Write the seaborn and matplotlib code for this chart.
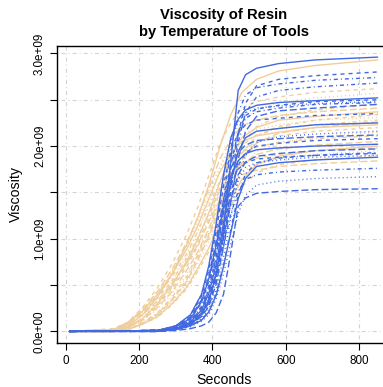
import numpy as np
import pandas as pd
import matplotlib
matplotlib.use("Agg")
import matplotlib.pyplot as plt
import seaborn as sns
from matplotlib.ticker import FixedLocator, FuncFormatter

# values, viscosity in units of 1e9
tan_seconds = [10, 130, 170, 210, 250, 290, 330, 360, 390, 420, 450, 480, 520, 580, 680, 850]
tan_curves = [
    [0, 0.01, 0.06, 0.18, 0.37, 0.62, 0.94, 1.23, 1.58, 1.99, 2.34, 2.58, 2.72, 2.81, 2.87, 2.93],
    [0, 0.03, 0.10, 0.26, 0.47, 0.73, 1.05, 1.34, 1.68, 2.02, 2.25, 2.41, 2.48, 2.53, 2.58, 2.62],
    [0, 0.01, 0.05, 0.15, 0.32, 0.54, 0.82, 1.08, 1.39, 1.75, 2.06, 2.26, 2.39, 2.47, 2.52, 2.57],
    [0, 0.00, 0.02, 0.10, 0.20, 0.37, 0.59, 0.83, 1.10, 1.42, 1.74, 2.01, 2.21, 2.32, 2.39, 2.45],
    [0, 0.02, 0.10, 0.24, 0.43, 0.67, 0.96, 1.23, 1.54, 1.86, 2.07, 2.22, 2.28, 2.33, 2.37, 2.41],
    [0, 0.00, 0.05, 0.14, 0.30, 0.50, 0.76, 1.00, 1.28, 1.61, 1.90, 2.09, 2.20, 2.28, 2.32, 2.37],
    [0, 0.00, 0.02, 0.09, 0.19, 0.35, 0.56, 0.80, 1.05, 1.36, 1.66, 1.92, 2.11, 2.21, 2.28, 2.34],
    [0, 0.02, 0.09, 0.23, 0.42, 0.65, 0.92, 1.18, 1.48, 1.78, 1.99, 2.13, 2.18, 2.23, 2.28, 2.31],
    [0, 0.00, 0.05, 0.14, 0.29, 0.48, 0.73, 0.96, 1.23, 1.55, 1.82, 2.01, 2.12, 2.19, 2.23, 2.28],
    [0, 0.00, 0.02, 0.09, 0.18, 0.34, 0.54, 0.77, 1.02, 1.31, 1.60, 1.85, 2.03, 2.14, 2.20, 2.26],
    [0, 0.02, 0.09, 0.22, 0.40, 0.62, 0.89, 1.14, 1.43, 1.72, 1.92, 2.05, 2.11, 2.15, 2.20, 2.23],
    [0, 0.00, 0.04, 0.13, 0.28, 0.46, 0.70, 0.92, 1.19, 1.50, 1.76, 1.94, 2.05, 2.11, 2.16, 2.20],
    [0, 0.00, 0.02, 0.09, 0.17, 0.32, 0.52, 0.73, 0.97, 1.25, 1.53, 1.76, 1.94, 2.03, 2.10, 2.15],
    [0, 0.02, 0.08, 0.21, 0.38, 0.59, 0.84, 1.08, 1.35, 1.62, 1.81, 1.94, 1.99, 2.04, 2.08, 2.11],
    [0, 0.00, 0.04, 0.12, 0.26, 0.43, 0.66, 0.86, 1.11, 1.39, 1.64, 1.80, 1.91, 1.97, 2.01, 2.05],
    [0, 0.00, 0.02, 0.08, 0.16, 0.30, 0.48, 0.68, 0.90, 1.16, 1.42, 1.64, 1.80, 1.89, 1.95, 2.00],
    [0, 0.02, 0.08, 0.20, 0.36, 0.55, 0.79, 1.01, 1.27, 1.52, 1.70, 1.82, 1.87, 1.91, 1.95, 1.98],
    [0, 0.00, 0.04, 0.12, 0.24, 0.41, 0.62, 0.82, 1.05, 1.33, 1.56, 1.72, 1.81, 1.87, 1.91, 1.95],
    [0, 0.00, 0.02, 0.08, 0.15, 0.29, 0.46, 0.65, 0.86, 1.10, 1.35, 1.56, 1.71, 1.80, 1.85, 1.90],
    [0, 0.02, 0.07, 0.18, 0.33, 0.52, 0.74, 0.94, 1.18, 1.42, 1.58, 1.69, 1.74, 1.78, 1.81, 1.84],
]

blue_seconds = [10, 250, 300, 340, 370, 390, 410, 430, 450, 470, 490, 520, 580, 680, 850]
blue_curves = [
    [0, 0.01, 0.03, 0.08, 0.18, 0.33, 0.62, 1.10, 1.85, 2.60, 2.77, 2.84, 2.89, 2.93, 2.96],
    [0, 0.01, 0.03, 0.08, 0.18, 0.31, 0.59, 1.04, 1.60, 2.13, 2.46, 2.65, 2.72, 2.76, 2.80],
    [0, 0.01, 0.04, 0.12, 0.27, 0.49, 0.88, 1.42, 1.97, 2.36, 2.55, 2.63, 2.67, 2.71, 2.74],
    [0, 0.01, 0.03, 0.08, 0.17, 0.29, 0.56, 0.99, 1.53, 2.04, 2.36, 2.53, 2.60, 2.64, 2.68],
    [0, 0.01, 0.06, 0.18, 0.40, 0.71, 1.16, 1.69, 2.09, 2.29, 2.39, 2.44, 2.47, 2.49, 2.52],
    [0, 0.01, 0.04, 0.11, 0.25, 0.45, 0.80, 1.30, 1.80, 2.15, 2.33, 2.40, 2.44, 2.48, 2.50],
    [0, 0.01, 0.06, 0.17, 0.40, 0.69, 1.14, 1.66, 2.06, 2.26, 2.36, 2.41, 2.43, 2.46, 2.48],
    [0, 0.01, 0.04, 0.11, 0.25, 0.44, 0.79, 1.28, 1.78, 2.12, 2.30, 2.37, 2.41, 2.45, 2.47],
    [0, 0.00, 0.02, 0.07, 0.16, 0.27, 0.51, 0.91, 1.40, 1.86, 2.16, 2.32, 2.38, 2.41, 2.45],
    [0, 0.01, 0.03, 0.10, 0.23, 0.41, 0.72, 1.17, 1.62, 1.94, 2.09, 2.16, 2.19, 2.23, 2.25],
    [0, 0.00, 0.02, 0.06, 0.14, 0.24, 0.45, 0.80, 1.23, 1.64, 1.90, 2.04, 2.10, 2.13, 2.16],
    [0, 0.01, 0.03, 0.09, 0.21, 0.37, 0.67, 1.08, 1.50, 1.79, 1.93, 2.00, 2.03, 2.06, 2.08],
    [0, 0.01, 0.05, 0.14, 0.32, 0.57, 0.93, 1.35, 1.68, 1.84, 1.92, 1.96, 1.98, 2.00, 2.02],
    [0, 0.01, 0.03, 0.09, 0.20, 0.35, 0.63, 1.02, 1.42, 1.69, 1.83, 1.89, 1.92, 1.95, 1.97],
    [0, 0.00, 0.02, 0.06, 0.13, 0.21, 0.41, 0.71, 1.10, 1.47, 1.70, 1.82, 1.87, 1.90, 1.93],
    [0, 0.01, 0.05, 0.13, 0.31, 0.54, 0.88, 1.29, 1.59, 1.75, 1.82, 1.86, 1.88, 1.90, 1.92],
    [0, 0.01, 0.03, 0.09, 0.19, 0.34, 0.61, 0.99, 1.37, 1.63, 1.77, 1.82, 1.85, 1.88, 1.90],
    [0, 0.00, 0.02, 0.06, 0.12, 0.21, 0.39, 0.70, 1.07, 1.43, 1.65, 1.78, 1.82, 1.85, 1.88],
    [0, 0.01, 0.03, 0.08, 0.18, 0.32, 0.56, 0.92, 1.27, 1.51, 1.64, 1.69, 1.72, 1.74, 1.76],
    [0, 0.00, 0.02, 0.05, 0.11, 0.18, 0.35, 0.62, 0.95, 1.27, 1.47, 1.58, 1.62, 1.65, 1.67],
    [0, 0.00, 0.01, 0.03, 0.06, 0.10, 0.20, 0.40, 0.85, 1.35, 1.44, 1.49, 1.51, 1.53, 1.54],
    [0, 0.01, 0.06, 0.16, 0.38, 0.66, 1.08, 1.57, 1.95, 2.14, 2.23, 2.28, 2.30, 2.33, 2.35],
    [0, 0.01, 0.05, 0.15, 0.34, 0.59, 0.98, 1.42, 1.76, 1.93, 2.01, 2.06, 2.08, 2.10, 2.12],
]

x_ticks = [0, 200, 400, 600, 800]
y_ticks = [0, 0.5e9, 1.0e9, 1.5e9, 2.0e9, 2.5e9, 3.0e9]

# R-like line types (in points, unscaled)
lty = {
    "solid": "-",
    "dashed": (0, (2.9, 2.9)),
    "dotted": (0, (0.7, 2.2)),
    "dotdash": (0, (0.7, 2.2, 2.9, 2.2)),
    "longdash": (0, (5.0, 2.2)),
}
cycle = ["solid", "dashed", "dotted", "dotdash", "longdash"]
blue_styles = ["solid", "dashed", "dotdash", "dotdash", "solid", "dashed", "dotted",
               "dotdash", "longdash", "solid", "dotted", "dashed", "solid", "longdash",
               "dotdash", "dashed", "dotted", "solid", "dotdash", "dotted", "longdash",
               "dashed", "longdash"]

sns.set_style("white")
plt.rcParams["font.family"] = ["Liberation Sans", "DejaVu Sans"]
plt.rcParams["lines.scale_dashes"] = False

TAN = "#EFCE9C"
BLUE = "#4169E1"

fig = plt.figure(figsize=(3.83, 3.87), dpi=100)
ax = fig.add_axes([57 / 383, 44 / 387, 333 / 383, 297 / 387])

for i, vals in enumerate(tan_curves):
    df = pd.DataFrame({"Seconds": tan_seconds, "Viscosity": np.array(vals) * 1e9})
    sns.lineplot(data=df, x="Seconds", y="Viscosity", ax=ax, color=TAN,
                 linestyle=lty[cycle[i % 5]], lw=1.0, zorder=2)

for i, vals in enumerate(blue_curves):
    df = pd.DataFrame({"Seconds": blue_seconds, "Viscosity": np.array(vals) * 1e9})
    sns.lineplot(data=df, x="Seconds", y="Viscosity", ax=ax, color=BLUE,
                 linestyle=lty[blue_styles[i]], lw=1.0, zorder=3)

ax.set_xlim(-23.6, 883.6)
ax.set_ylim(-0.125e9, 3.08e9)
ax.xaxis.set_major_locator(FixedLocator(x_ticks))
ax.yaxis.set_major_locator(FixedLocator(y_ticks))
ax.yaxis.set_major_formatter(FuncFormatter(
    lambda v, p: f"{v:.1e}" if abs(v / 1e9 - round(v / 1e9)) < 1e-6 else ""))

ax.grid(True, color="#D3D3D3", linestyle=(0, (0.7, 2.2, 2.9, 2.2)), lw=0.8, zorder=0)
ax.set_axisbelow(True)
for s in ax.spines.values():
    s.set_color("black")
    s.set_linewidth(1.0)

ax.tick_params(axis="both", direction="out", length=5, width=0.8, color="black",
               labelsize=8.4, labelcolor="black", pad=3)
ax.tick_params(axis="x", bottom=True, pad=4)
ax.tick_params(axis="y", left=True)
for lab in ax.get_yticklabels():
    lab.set_rotation(90)
    lab.set_va("center")
    lab.set_ha("right")

ax.set_xlabel("")
ax.set_ylabel("")
fig.text(224 / 383, 1 - 380.5 / 387, "Seconds", ha="center", va="center",
         fontsize=10.2, color="black")
fig.text(16 / 383, 1 - 194.5 / 387, "Viscosity", ha="center", va="center",
         rotation=90, fontsize=10.2, color="black")
fig.text(224 / 383, 1 - 23.5 / 387, "Viscosity of Resin\nby Temperature of Tools",
         ha="center", va="center", fontsize=10.6, fontweight="bold", linespacing=1.2,
         color="black")

fig.savefig("out.png", dpi=100)
